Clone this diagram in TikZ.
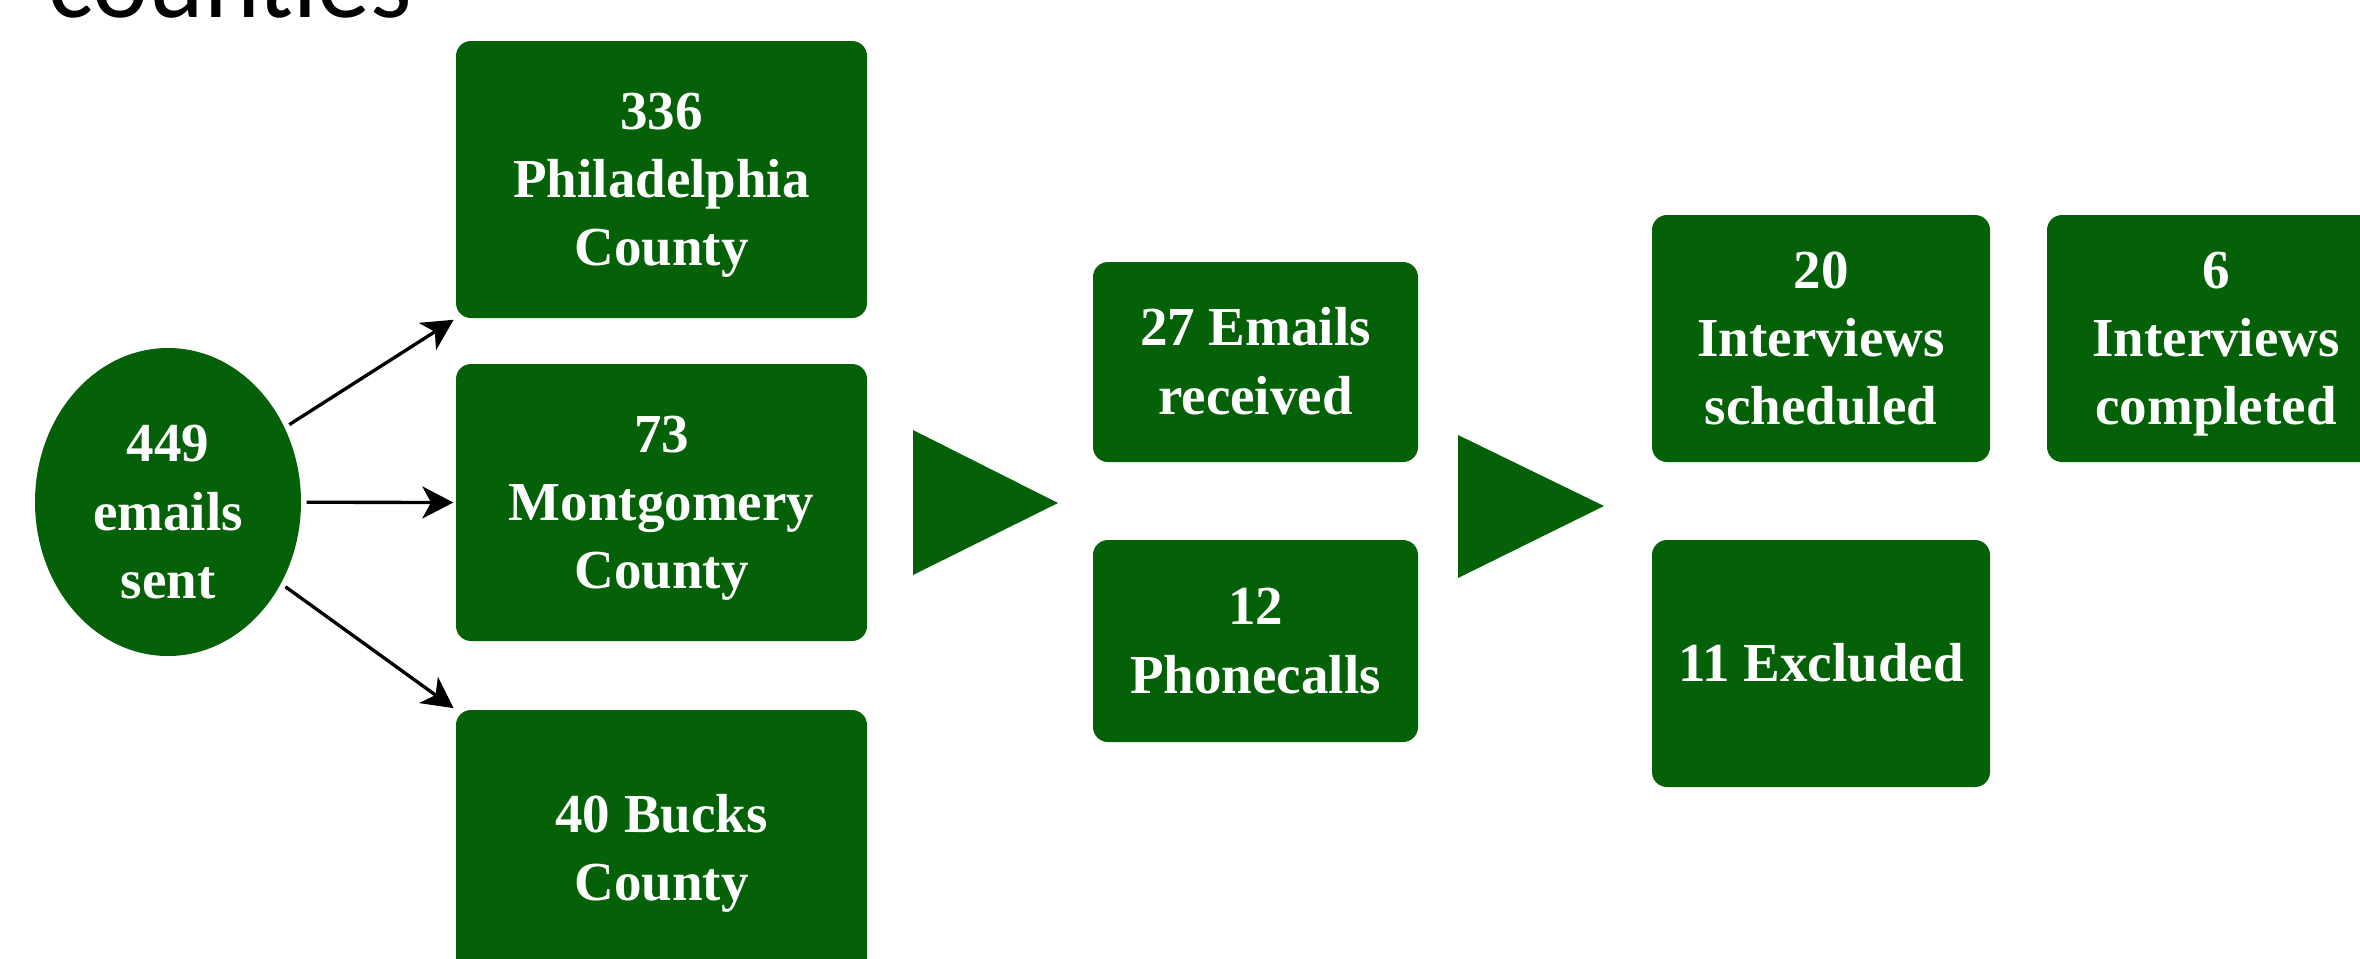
\documentclass[tikz,border=0pt]{standalone}
\usepackage{fontspec}
\setmainfont{Liberation Serif}
\newfontfamily\carlitofont{Carlito}
\usetikzlibrary{arrows.meta,shapes.geometric}
\definecolor{boxgreen}{RGB}{5,97,8}
\newcommand\tstrut{\rule{0pt}{17pt}}
\tikzset{
  gbox/.style={fill=boxgreen, rounded corners=4.5pt, text=white, align=center,
    inner sep=0pt, font=\fontsize{16.5}{20.5}\selectfont\bfseries},
  gell/.style={ellipse, fill=boxgreen, inner sep=0pt,
    minimum width=79.8pt, minimum height=92.4pt},
  etext/.style={text=white, align=center, inner sep=0pt, font=\fontsize{16.5}{20.5}\selectfont\bfseries},
  arr/.style={-{Stealth[length=9.3pt,width=9.6pt,inset=2.6pt]}, line width=1pt, black,
    shorten <=1.5pt, shorten >=0.6pt},
  bigtri/.style={fill=boxgreen}
}
\begin{document}
\begin{tikzpicture}[x=0.3pt,y=-0.3pt]
\path[use as bounding box] (0,0) rectangle (2360,958);
\clip (0,0) rectangle (2360,958);
\node[anchor=base west, inner sep=0pt, font=\carlitofont\fontsize{31.8}{36}\selectfont] (title) at (48,17) {counties};
\node[gell] (ell) at (168,502) {};
\node[etext] (elltext) at ([yshift=-3pt]ell.center) {\tstrut 449\\emails\\sent\strut};
\node[gbox, minimum width=123.3pt, minimum height=83.1pt] (phil) at (661.5,179.5) {\tstrut 336\\Philadelphia\\County\strut};
\node[gbox, minimum width=123.3pt, minimum height=83.1pt] (mont) at (661.5,502.5) {\tstrut 73\\Montgomery\\County\strut};
\node[gbox, minimum width=123.3pt, minimum height=83.1pt] (bucks) at (661.5,848.5) {\tstrut 40 Bucks\\County\strut};
\node[gbox, minimum width=97.5pt, minimum height=60pt] (emails) at (1255.5,362) {\tstrut 27 Emails\\received\strut};
\node[gbox, minimum width=97.5pt, minimum height=60.6pt] (phone) at (1255.5,641) {\tstrut 12\\Phonecalls\strut};
\node[gbox, minimum width=101.4pt, minimum height=74.1pt] (sched) at (1821,338.5) {\tstrut 20\\Interviews\\scheduled\strut};
\node[gbox, minimum width=101.4pt, minimum height=74.1pt] (compl) at (2216,338.5) {\tstrut 6\\Interviews\\completed\strut};
\node[gbox, minimum width=101.4pt, minimum height=74.1pt] (excl) at (1821,663.5) {\tstrut 11 Excluded\strut};
\fill[bigtri] (913,430) -- (1058,503) -- (913,575) -- cycle;
\fill[bigtri] (1458,435) -- (1604,506) -- (1458,578) -- cycle;
\draw[arr] (ell) -- (phil.south west);
\draw[arr] (ell) -- (mont.west);
\draw[arr] (ell) -- (bucks.north west);
\end{tikzpicture}
\end{document}
